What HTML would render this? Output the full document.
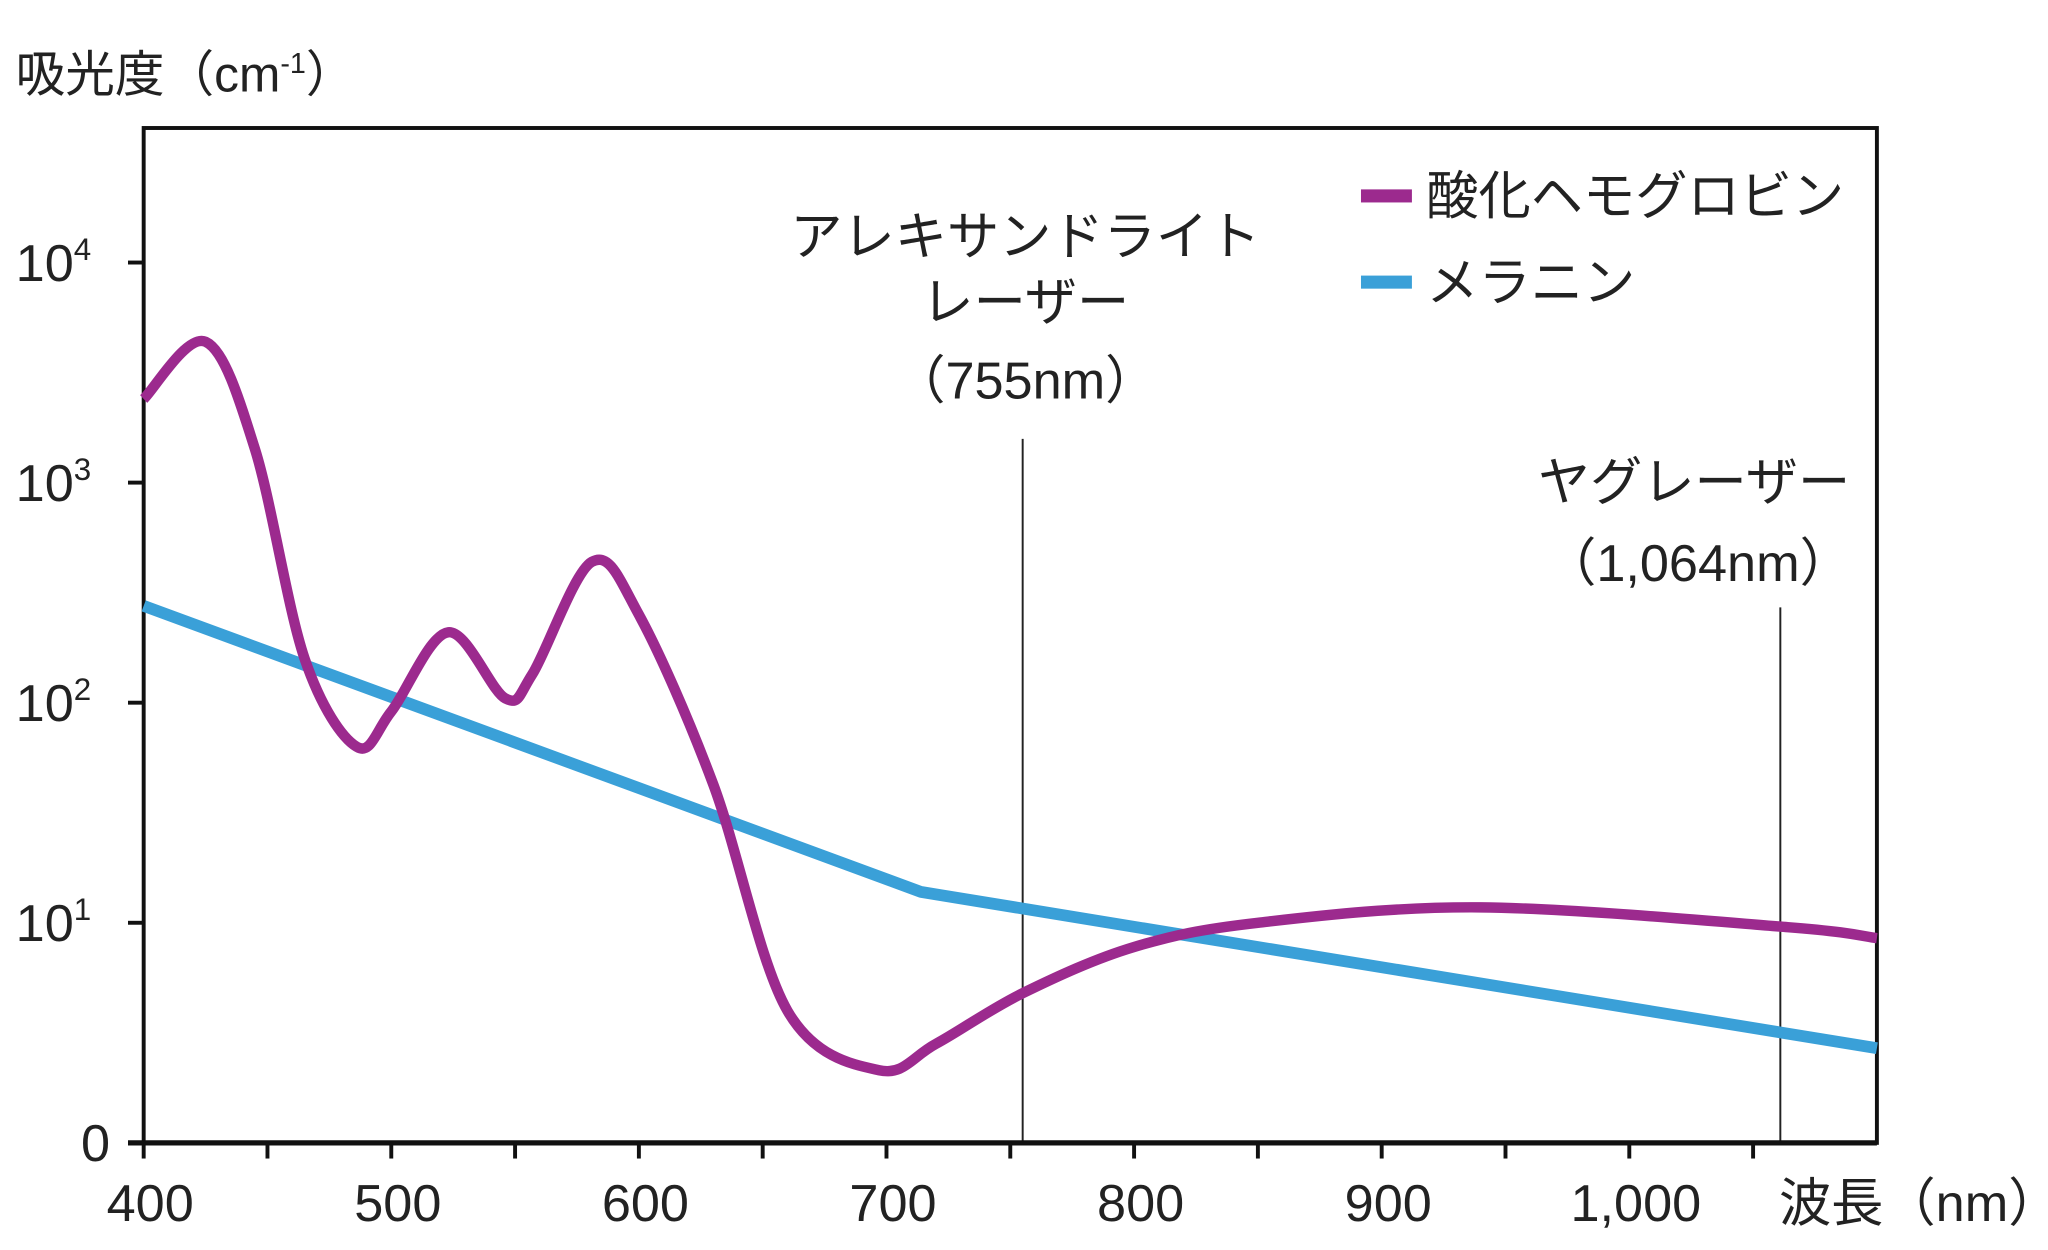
<!DOCTYPE html>
<html><head><meta charset="utf-8">
<style>
html,body{margin:0;padding:0;background:#fff;}
svg{display:block;}
text{font-family:"Liberation Sans Narrow","Liberation Sans","Noto Sans CJK JP",sans-serif;fill:#222;}
</style></head>
<body>
<svg id="chart" width="2048" height="1250" viewBox="0 0 1568 957.03" xmlns="http://www.w3.org/2000/svg">
<g id="axes"></g>
<g id="series"></g>
<text x="12" y="70" font-size="38">吸光度（cm<tspan font-size="22" dy="-14">-1</tspan><tspan dy="14">）</tspan></text>
<text x="1362" y="935" font-size="40">波長（nm）</text>
<g font-size="40" text-anchor="middle">
<text x="785" y="195">アレキサンドライト</text>
<text x="785" y="245">レーザー</text>
<text x="785" y="305">（755nm）</text>
</g>
<g font-size="40" text-anchor="middle">
<text x="1297" y="383">ヤグレーザー</text>
<text x="1300" y="445">（1,064nm）</text>
</g>
<g>
<rect x="1042" y="145" width="39" height="10" fill="#9c2a8e"/>
<text x="1092" y="164" font-size="40">酸化ヘモグロビン</text>
<rect x="1042" y="211" width="39" height="10" fill="#3aa0d8"/>
<text x="1092" y="230" font-size="40">メラニン</text>
</g>
</svg>
<script>
const xTicks = [400,500,600,700,800,900,1000];
const xTickLabels = ["400","500","600","700","800","900","1,000"];
const yTicks = [0,1,2,3,4];
const hbWave = [400,425,445,465,486,500,523,546,557,581,600,630,660,697,720,755,800,850,940,1064,1100];
const hbLog  = [3.38,3.64,3.15,2.20,1.80,1.96,2.32,2.02,2.13,2.64,2.40,1.63,0.60,0.33,0.45,0.68,0.89,1.00,1.07,0.98,0.93];
const melWave = [400,714,1100];
const melLog  = [2.44,1.14,0.43];
const laserLines = [755,1061];

const L=110,R=1437,T=98,B=875;
const xs = w => L + (w-400)*(R-L)/700;
const ys = v => B - v*168.5;
const NS="http://www.w3.org/2000/svg";
const axes=document.getElementById('axes'), series=document.getElementById('series');
function mk(tag,attrs,parent){const e=document.createElementNS(NS,tag);for(const k in attrs)e.setAttribute(k,attrs[k]);parent.appendChild(e);return e;}

laserLines.forEach((w,i)=>{
  const ln=mk('line',{x1:xs(w),x2:xs(w),y1:i===0?336:465,y2:B,stroke:'#222','stroke-width':1.5},axes);
  
  
});
const fr=mk('rect',{x:L,y:T,width:R-L,height:B-T,fill:'none',stroke:'#111','stroke-width':3},axes);


const xa=mk('line',{x1:L-12,x2:R,y1:B,y2:B,stroke:'#111','stroke-width':4},axes);


for(let w=400;w<=1050;w+=50){
  const t=mk('line',{x1:xs(w),x2:xs(w),y1:B,y2:B+12,stroke:'#111','stroke-width':3},axes);
  
  
}
xTicks.forEach((w,i)=>{
  const t=mk('text',{x:xs(w)+5,y:935,'font-size':40,'text-anchor':'middle'},axes);
  t.textContent=xTickLabels[i];
  
  
});
yTicks.forEach(v=>{
  const tk=mk('line',{x1:L-12,x2:L,y1:ys(v),y2:ys(v),stroke:'#111','stroke-width':3},axes);
  
  
  const t=mk('text',{x:v===0?62:12,y:ys(v)+14,'font-size':40},axes);
  
  
  if(v===0){t.textContent='0';}
  else{t.textContent='10';const s=mk('tspan',{'font-size':24,dy:-16},t);s.textContent=String(v);}
});

function smooth(px){
  let d='M'+px[0][0]+','+px[0][1];
  for(let i=0;i<px.length-1;i++){
    const p0=px[Math.max(0,i-1)],p1=px[i],p2=px[i+1],p3=px[Math.min(px.length-1,i+2)];
    const c1=[p1[0]+(p2[0]-p0[0])/6,p1[1]+(p2[1]-p0[1])/6];
    const c2=[p2[0]-(p3[0]-p1[0])/6,p2[1]-(p3[1]-p1[1])/6];
    d+=' C'+c1[0]+','+c1[1]+' '+c2[0]+','+c2[1]+' '+p2[0]+','+p2[1];
  }
  return d;
}
const melPts=melWave.map((w,i)=>[xs(w),ys(melLog[i])]);
const mel=mk('path',{d:'M'+melPts.map(p=>p.join(',')).join(' L'),fill:'none',stroke:'#3aa0d8','stroke-width':9,'stroke-linejoin':'round'},series);


const hbPts=hbWave.map((w,i)=>[xs(w),ys(hbLog[i])]);
const hb=mk('path',{d:smooth(hbPts),fill:'none',stroke:'#9c2a8e','stroke-width':8,'stroke-linejoin':'round'},series);


</script>
</body></html>
